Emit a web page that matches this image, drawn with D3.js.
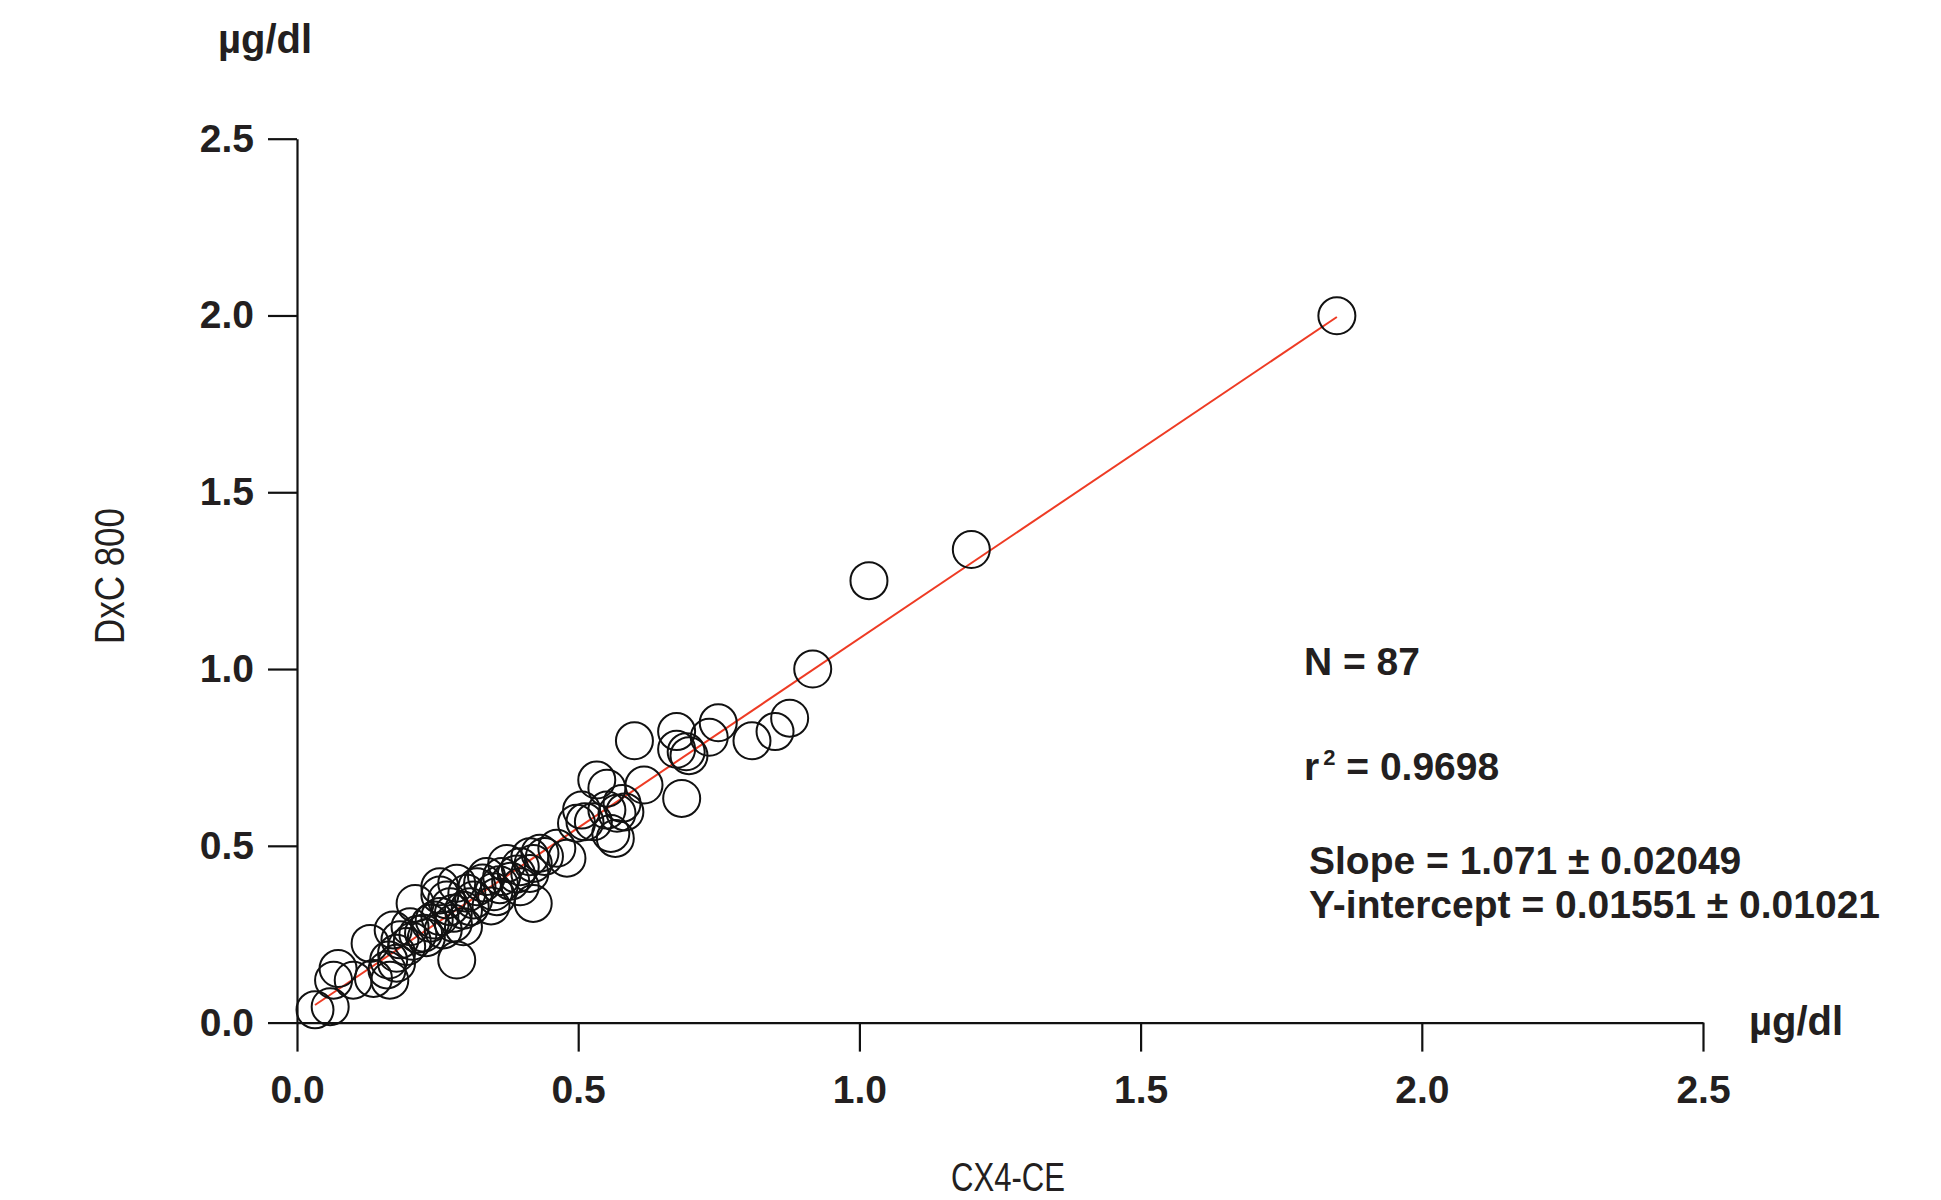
<!DOCTYPE html>
<html>
<head>
<meta charset="utf-8">
<script src="https://cdn.jsdelivr.net/npm/d3@7"></script>
<style>
  html, body { margin: 0; padding: 0; background: #fff; }
  svg { display: block; }
</style>
</head>
<body>
<svg id="chart" width="1941" height="1200"></svg>
<script>
// CX4-CE (x) vs DxC 800 (y), µg/dl
const xValues = [0.917,1.017,1.199,1.849,0.600,0.675,0.675,0.692,0.697,0.733,0.749,0.809,0.850,0.876,0.684,0.617,0.533,0.551,0.578,0.569,0.583,0.506,0.512,0.566,0.527,0.497,0.462,0.480,0.432,0.414,0.420,0.397,0.373,0.364,0.414,0.397,0.355,0.337,0.320,0.314,0.284,0.254,0.266,0.278,0.308,0.296,0.254,0.032,0.059,0.073,0.065,0.100,0.130,0.136,0.160,0.163,0.177,0.165,0.183,0.171,0.201,0.210,0.195,0.177,0.225,0.237,0.254,0.260,0.284,0.278,0.244,0.272,0.296,0.302,0.330,0.350,0.345,0.380,0.390,0.420,0.440,0.215,0.230,0.205,0.360,0.551,0.558];
const yValues = [1.000,1.250,1.338,1.999,0.797,0.823,0.773,0.766,0.755,0.807,0.848,0.797,0.823,0.861,0.634,0.672,0.686,0.663,0.620,0.592,0.596,0.601,0.568,0.521,0.568,0.564,0.493,0.465,0.479,0.469,0.337,0.441,0.450,0.413,0.422,0.384,0.356,0.413,0.384,0.347,0.394,0.384,0.347,0.309,0.328,0.271,0.300,0.036,0.045,0.153,0.120,0.120,0.224,0.125,0.149,0.177,0.196,0.120,0.234,0.262,0.271,0.337,0.215,0.168,0.253,0.281,0.361,0.262,0.177,0.281,0.290,0.328,0.318,0.366,0.395,0.370,0.330,0.400,0.420,0.450,0.470,0.250,0.240,0.230,0.390,0.601,0.535];
const xTicks = [0.0, 0.5, 1.0, 1.5, 2.0, 2.5];
const yTicks = [0.0, 0.5, 1.0, 1.5, 2.0, 2.5];
const slope = 1.071, intercept = 0.01551;
const statLines = ["N = 87", "r2 = 0.9698", "Slope = 1.071 \u00b1 0.02049", "Y-intercept = 0.01551 \u00b1 0.01021"];
const xTitle = "CX4-CE", yTitle = "DxC 800", unit = "\u00b5g/dl";

const svg = d3.select("#chart");
const x = d3.scaleLinear().domain([0, 2.5]).range([297, 1703]);
const y = d3.scaleLinear().domain([0, 2.5]).range([1022.6, 138.7]);
const fmt = d3.format(".1f");
const boldFont = "'Liberation Sans', Arial, sans-serif";
const lightFont = "'Liberation Sans', Arial, sans-serif";

const gx = svg.append("g").attr("transform", `translate(0,${y(0)})`)
  .call(d3.axisBottom(x).tickValues(xTicks).tickFormat(fmt).tickSize(29).tickSizeOuter(0).tickPadding(24));
const gy = svg.append("g").attr("transform", `translate(${x(0)},0)`)
  .call(d3.axisLeft(y).tickValues(yTicks).tickFormat(fmt).tickSize(29).tickSizeOuter(0).tickPadding(14));
[gx, gy].forEach(g => {
  g.selectAll("path, line").attr("stroke", "#111").attr("stroke-width", 2.2);
  g.selectAll("text").attr("fill", "#231f20").attr("font-family", boldFont)
    .attr("font-weight", "bold").attr("font-size", 39);
});
gy.selectAll("text").attr("dy", "0.32em");

// regression line
const xs = d3.extent(xValues);
svg.append("line")
  .attr("x1", x(xs[0])).attr("y1", y(slope * xs[0] + intercept))
  .attr("x2", x(xs[1])).attr("y2", y(slope * xs[1] + intercept))
  .attr("stroke", "#ee3b24").attr("stroke-width", 2);

// points
svg.append("g").selectAll("circle").data(xValues.map((v, i) => [v, yValues[i]])).join("circle")
  .attr("cx", d => x(d[0])).attr("cy", d => y(d[1])).attr("r", 18.5)
  .attr("fill", "none").attr("stroke", "#111").attr("stroke-width", 2);

// units
svg.append("text").attr("x", 218).attr("y", 53).text(unit)
  .attr("font-family", boldFont).attr("font-weight", "bold").attr("font-size", 40).attr("fill", "#231f20");
svg.append("text").attr("x", 1749).attr("y", 1035).text(unit)
  .attr("font-family", boldFont).attr("font-weight", "bold").attr("font-size", 40).attr("fill", "#231f20");

// axis titles (condensed look)
svg.append("text").attr("x", 1008).attr("y", 1191).attr("text-anchor", "middle").text(xTitle)
  .attr("font-family", lightFont).attr("font-size", 41).attr("fill", "#231f20")
  .attr("textLength", 114).attr("lengthAdjust", "spacingAndGlyphs");
svg.append("text").attr("transform", "translate(124,576) rotate(-90)").attr("text-anchor", "middle").text(yTitle)
  .attr("font-family", lightFont).attr("font-size", 42).attr("fill", "#231f20")
  .attr("textLength", 136).attr("lengthAdjust", "spacingAndGlyphs");

// stats
const statPos = [[1304, 675], [1304, 780], [1309, 874], [1309, 918]];
statLines.forEach((s, i) => {
  const t = svg.append("text").attr("x", statPos[i][0]).attr("y", statPos[i][1])
    .attr("font-family", boldFont).attr("font-weight", "bold").attr("font-size", 39).attr("fill", "#231f20");
  if (s.startsWith("r2")) {
    t.append("tspan").text("r");
    t.append("tspan").text("2").attr("font-size", 22).attr("dx", 4).attr("dy", -15);
    t.append("tspan").text(" " + s.slice(3)).attr("dy", 15);
  } else {
    t.text(s);
  }
});
</script>
</body>
</html>
